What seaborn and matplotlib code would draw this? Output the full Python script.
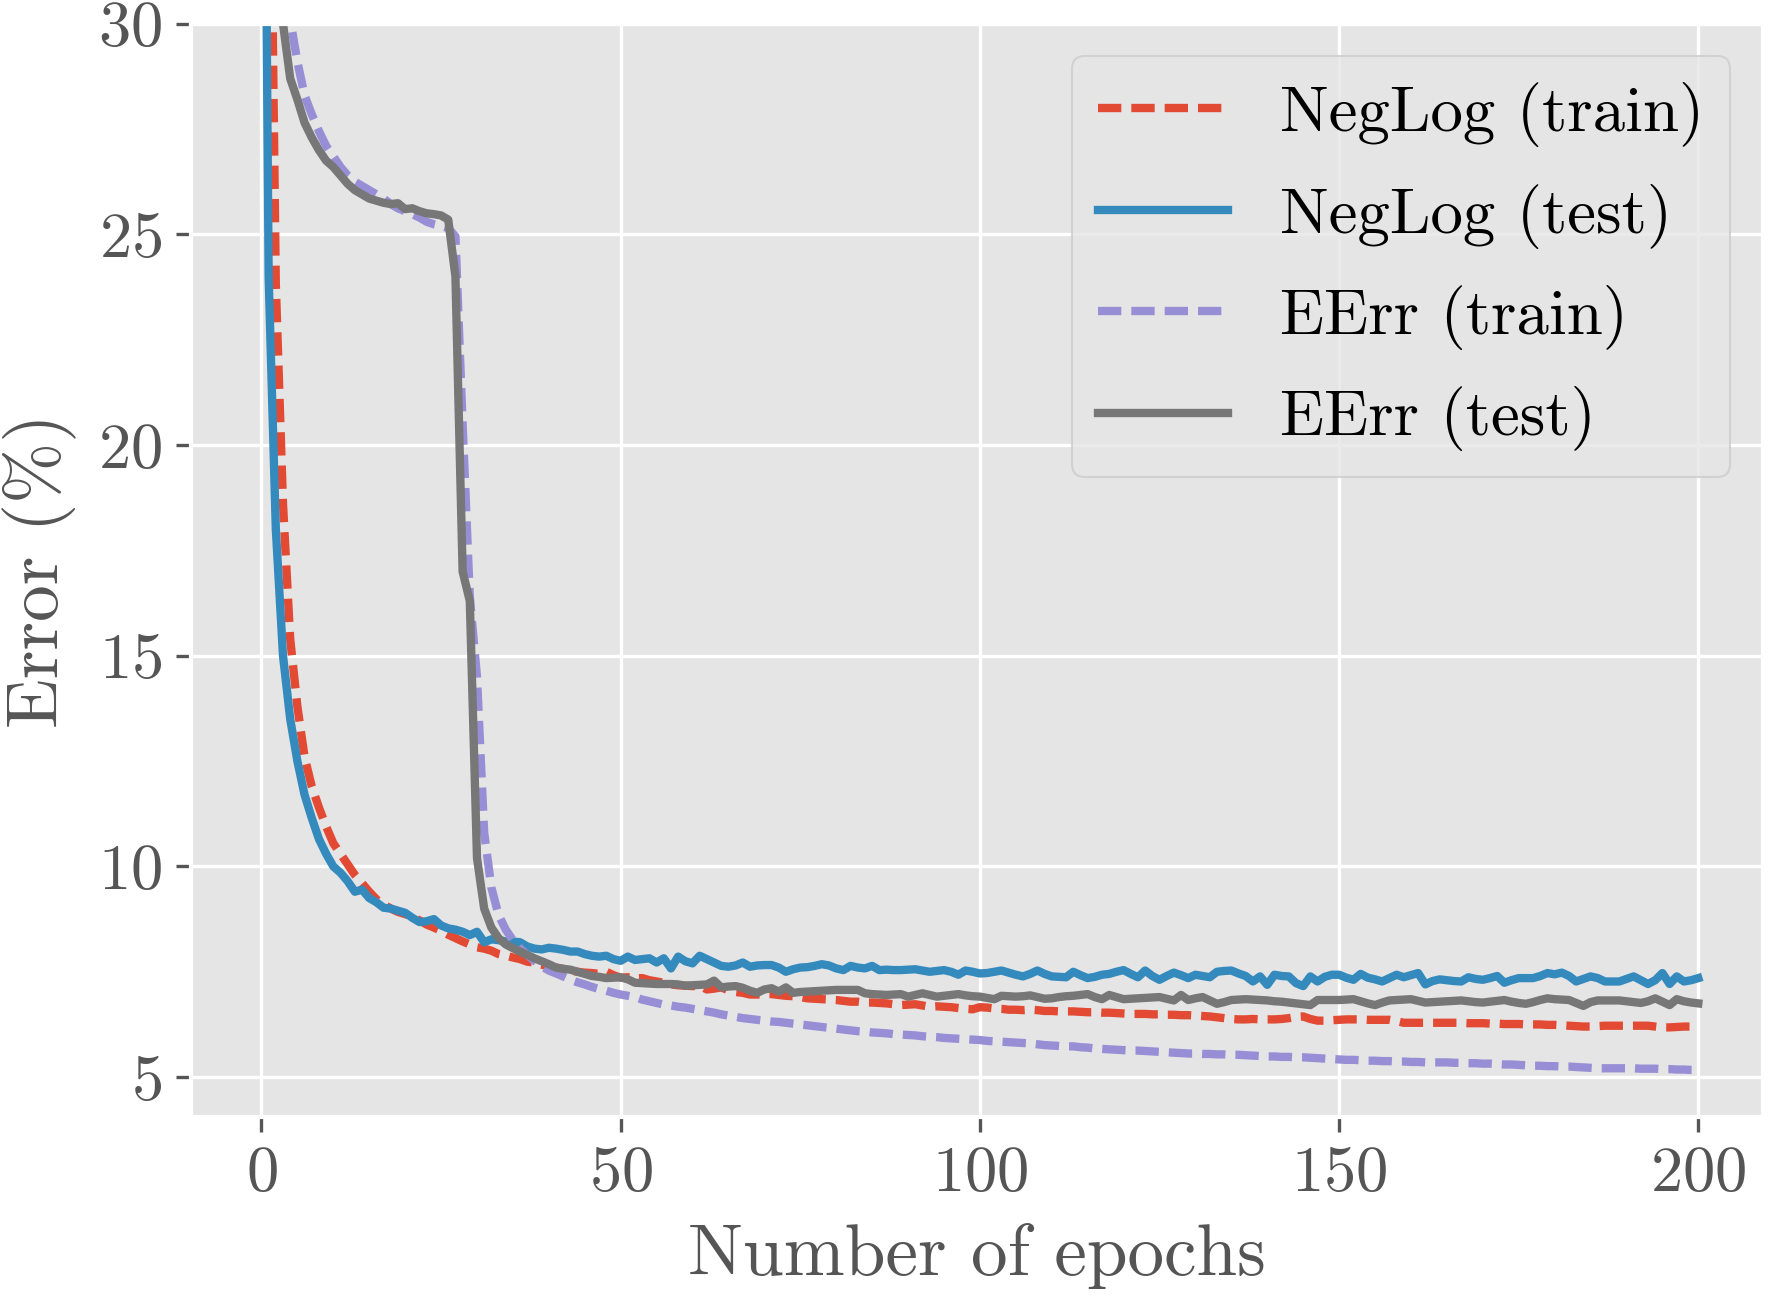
import numpy as np
import pandas as pd
import matplotlib
matplotlib.use("Agg")
import matplotlib.pyplot as plt
import seaborn as sns

# error (%) per epoch
epochs = list(range(0, 201))

neglog_train = [
    55.0, 38.0, 23.8, 18.6, 15.4, 13.8, 12.6, 11.9, 11.4, 10.95,
    10.55, 10.3, 10.05, 9.8, 9.6, 9.4, 9.22, 9.1, 9.0, 8.92,
    8.87, 8.8, 8.72, 8.62, 8.55, 8.47, 8.38, 8.3, 8.22, 8.15,
    8.08, 8.05, 8.0, 7.92, 7.88, 7.84, 7.8, 7.74, 7.72, 7.67,
    7.63, 7.6, 7.57, 7.53, 7.5, 7.48, 7.47, 7.45, 7.5, 7.42,
    7.36, 7.37, 7.34, 7.35, 7.3, 7.27, 7.24, 7.2, 7.18, 7.17,
    7.16, 7.17, 7.08, 7.1, 7.13, 7.06, 7.02, 7.0, 6.96, 6.96,
    6.97, 6.97, 6.95, 6.93, 6.92, 6.9, 6.87, 6.86, 6.85, 6.84,
    6.83, 6.81, 6.79, 6.79, 6.77, 6.77, 6.76, 6.75, 6.73, 6.71,
    6.72, 6.73, 6.7, 6.67, 6.68, 6.67, 6.66, 6.64, 6.62, 6.61,
    6.66, 6.65, 6.63, 6.62, 6.6, 6.6, 6.59, 6.6, 6.59, 6.57,
    6.57, 6.56, 6.56, 6.56, 6.55, 6.54, 6.54, 6.53, 6.53, 6.52,
    6.51, 6.5, 6.5, 6.5, 6.49, 6.49, 6.48, 6.48, 6.47, 6.47,
    6.46, 6.45, 6.44, 6.42, 6.4, 6.38, 6.37, 6.37, 6.38, 6.37,
    6.37, 6.37, 6.38, 6.4, 6.43, 6.44, 6.38, 6.34, 6.34, 6.35,
    6.36, 6.37, 6.37, 6.37, 6.36, 6.36, 6.36, 6.36, 6.33, 6.29,
    6.29, 6.29, 6.29, 6.29, 6.29, 6.29, 6.29, 6.29, 6.28, 6.28,
    6.28, 6.27, 6.27, 6.26, 6.26, 6.26, 6.25, 6.25, 6.25, 6.24,
    6.24, 6.23, 6.22, 6.21, 6.2, 6.2, 6.21, 6.22, 6.22, 6.22,
    6.22, 6.22, 6.22, 6.22, 6.2, 6.18, 6.18, 6.19, 6.2, 6.2,
    6.2,
]

neglog_test = [
    46.0, 24.0, 18.0, 15.0, 13.5, 12.5, 11.7, 11.15, 10.65, 10.3,
    10.0, 9.85, 9.65, 9.4, 9.45, 9.25, 9.15, 9.02, 9.0, 8.95,
    8.9, 8.78, 8.68, 8.7, 8.75, 8.6, 8.53, 8.5, 8.45, 8.37,
    8.45, 8.2, 8.27, 8.25, 8.22, 8.22, 8.2, 8.1, 8.05, 8.03,
    8.07, 8.05, 8.02, 7.98, 7.98, 7.92, 7.88, 7.86, 7.88, 7.8,
    7.76, 7.86, 7.78, 7.8, 7.82, 7.72, 7.82, 7.58, 7.86, 7.75,
    7.7, 7.88, 7.8, 7.72, 7.64, 7.62, 7.65, 7.72, 7.62, 7.65,
    7.66, 7.66, 7.6, 7.5, 7.56, 7.6, 7.61, 7.64, 7.68, 7.65,
    7.58, 7.54, 7.64, 7.6, 7.58, 7.64, 7.54, 7.55, 7.54, 7.54,
    7.55, 7.56, 7.53, 7.5, 7.52, 7.54, 7.5, 7.43, 7.53, 7.5,
    7.46, 7.47, 7.5, 7.53, 7.48, 7.43, 7.39, 7.45, 7.53, 7.45,
    7.39, 7.38, 7.37, 7.5, 7.42, 7.35, 7.38, 7.43, 7.45, 7.5,
    7.54, 7.45, 7.37, 7.53, 7.4, 7.31, 7.4, 7.48, 7.42, 7.35,
    7.43, 7.4, 7.37, 7.5, 7.52, 7.53, 7.46, 7.4, 7.27, 7.39,
    7.19, 7.43, 7.4, 7.39, 7.23, 7.16, 7.39, 7.27, 7.38, 7.43,
    7.43, 7.36, 7.31, 7.45, 7.36, 7.32, 7.27, 7.35, 7.43, 7.37,
    7.42, 7.47, 7.2, 7.28, 7.32, 7.3, 7.28, 7.27, 7.37, 7.33,
    7.31, 7.35, 7.4, 7.24, 7.3, 7.35, 7.35, 7.35, 7.4, 7.47,
    7.44, 7.48, 7.4, 7.27, 7.33, 7.39, 7.35, 7.27, 7.27, 7.27,
    7.33, 7.39, 7.3, 7.21, 7.3, 7.47, 7.21, 7.39, 7.27, 7.3,
    7.35,
]

eerr_train = [
    70.0, 55.0, 42.0, 33.5, 30.1, 29.1, 28.3, 27.85, 27.45, 27.1,
    26.85, 26.6, 26.4, 26.25, 26.15, 26.05, 25.95, 25.85, 25.72, 25.62,
    25.55, 25.48, 25.4, 25.3, 25.24, 25.2, 25.15, 24.95, 20.5, 16.4,
    14.5, 10.8, 9.5, 8.85, 8.5, 8.25, 8.05, 7.9, 7.76, 7.63,
    7.53, 7.46, 7.39, 7.31, 7.25, 7.2, 7.14, 7.09, 7.05, 7.0,
    6.96, 6.93, 6.9, 6.84, 6.8, 6.76, 6.72, 6.7, 6.67, 6.65,
    6.62, 6.59, 6.56, 6.53, 6.49, 6.46, 6.43, 6.4, 6.38, 6.36,
    6.34, 6.32, 6.31, 6.29, 6.27, 6.25, 6.23, 6.21, 6.19, 6.17,
    6.15, 6.13, 6.11, 6.09, 6.08, 6.06, 6.05, 6.04, 6.02, 6.01,
    6.0, 5.99, 5.97, 5.96, 5.95, 5.93, 5.92, 5.91, 5.9, 5.89,
    5.88, 5.86, 5.85, 5.84, 5.83, 5.82, 5.81, 5.8, 5.78, 5.76,
    5.75, 5.74, 5.73, 5.73, 5.71, 5.7, 5.68, 5.67, 5.66, 5.65,
    5.64, 5.63, 5.63, 5.62, 5.61, 5.6, 5.59, 5.58, 5.57, 5.56,
    5.56, 5.55, 5.55, 5.54, 5.54, 5.53, 5.53, 5.52, 5.51, 5.5,
    5.49, 5.49, 5.48, 5.48, 5.47, 5.47, 5.46, 5.45, 5.44, 5.43,
    5.42, 5.41, 5.41, 5.4, 5.39, 5.39, 5.38, 5.38, 5.37, 5.37,
    5.36, 5.36, 5.35, 5.35, 5.35, 5.35, 5.34, 5.34, 5.33, 5.33,
    5.32, 5.32, 5.31, 5.3, 5.3, 5.29, 5.28, 5.27, 5.27, 5.26,
    5.26, 5.25, 5.25, 5.24, 5.23, 5.22, 5.21, 5.21, 5.21, 5.21,
    5.21, 5.21, 5.2, 5.2, 5.2, 5.19, 5.19, 5.18, 5.18, 5.17,
    5.17,
]

eerr_test = [
    60.0, 45.0, 34.0, 30.0, 28.7, 28.2, 27.65, 27.3, 27.0, 26.75,
    26.6, 26.4, 26.2, 26.05, 25.95, 25.85, 25.8, 25.75, 25.72, 25.74,
    25.6, 25.62, 25.55, 25.5, 25.48, 25.45, 25.35, 24.0, 17.0, 16.3,
    10.2, 9.0, 8.55, 8.3, 8.15, 8.06, 7.98, 7.9, 7.82, 7.75,
    7.68, 7.6, 7.57, 7.55, 7.5, 7.45, 7.4, 7.38, 7.35, 7.36,
    7.37, 7.32, 7.24, 7.23, 7.22, 7.21, 7.21, 7.21, 7.2, 7.17,
    7.18, 7.19, 7.2, 7.29, 7.13, 7.15, 7.16, 7.12, 7.05, 7.0,
    7.08, 7.11, 7.03, 7.13, 7.0, 7.02, 7.03, 7.04, 7.05, 7.06,
    7.07, 7.07, 7.07, 7.07, 6.99, 6.97, 6.96, 6.95, 6.96, 6.97,
    6.91, 6.95, 6.99, 6.95, 6.91, 6.93, 6.95, 6.97, 6.94, 6.92,
    6.91, 6.88, 6.85, 6.93, 6.92, 6.91, 6.92, 6.94, 6.9, 6.86,
    6.87, 6.9, 6.92, 6.93, 6.95, 6.97, 6.9, 6.85, 6.95, 6.9,
    6.85, 6.86, 6.87, 6.88, 6.89, 6.9, 6.86, 6.82, 6.95, 6.83,
    6.87, 6.9, 6.82, 6.74, 6.78, 6.83, 6.84, 6.85, 6.84, 6.83,
    6.82, 6.8, 6.79, 6.77, 6.75, 6.73, 6.71, 6.83, 6.83, 6.83,
    6.83, 6.84, 6.85, 6.8, 6.75, 6.71, 6.77, 6.82, 6.83, 6.84,
    6.85, 6.81, 6.77, 6.78, 6.79, 6.8, 6.81, 6.82, 6.8, 6.78,
    6.77, 6.79, 6.81, 6.83, 6.79, 6.76, 6.74, 6.78, 6.83, 6.87,
    6.85, 6.84, 6.83, 6.76, 6.69, 6.78, 6.82, 6.82, 6.82, 6.82,
    6.8, 6.78, 6.76, 6.8, 6.87, 6.79, 6.71, 6.85, 6.8, 6.77,
    6.75,
]

labels = ['NegLog (train)', 'NegLog (test)', 'EErr (train)', 'EErr (test)']
colors = ['#E24A33', '#348ABD', '#988ED5', '#777777']
dashed = [True, False, True, False]


def main():
    plt.style.use('ggplot')
    plt.rcParams['font.family'] = ['cmr10', 'DejaVu Serif']
    plt.rcParams['mathtext.fontset'] = 'cm'
    plt.rcParams['axes.formatter.use_mathtext'] = True

    fig, ax = plt.subplots(figsize=(1769 / 300, 1296 / 300), dpi=300)
    fig.subplots_adjust(left=0.108, right=0.9966, top=0.9817, bottom=0.138)

    series = [neglog_train, neglog_test, eerr_train, eerr_test]
    for vals, label, color, is_dashed in zip(series, labels, colors, dashed):
        df = pd.DataFrame({'epoch': epochs, 'err': vals})
        line_kw = {'dashes': (2.8, 1.2)} if is_dashed else {}
        sns.lineplot(data=df, x='epoch', y='err', ax=ax, color=color,
                     linewidth=2.0, label=label, **line_kw)

    ax.set_xlim(-9.8, 209)
    ax.set_ylim(4.05, 30)
    ax.set_xticks([0, 50, 100, 150, 200])
    ax.set_yticks([5, 10, 15, 20, 25, 30])
    ax.tick_params(labelsize=15.5)
    ax.set_xlabel('Number of epochs', fontsize=17.6, labelpad=4.5)
    ax.set_ylabel('Error (%)', fontsize=17.6, labelpad=5)
    ax.legend(loc='upper right', fontsize=15.6, labelspacing=0.56)

    plt.savefig('out.png', dpi=300)


if __name__ == "__main__":
    main()
